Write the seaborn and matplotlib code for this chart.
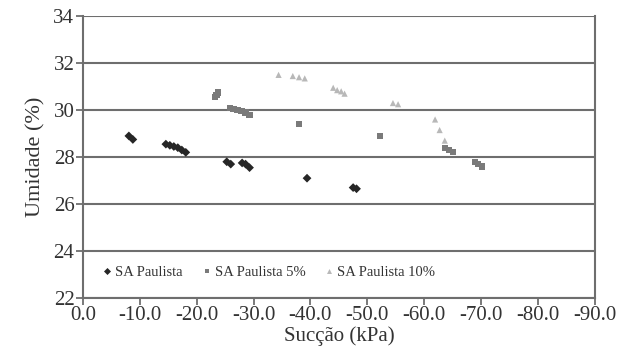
import numpy as np
import pandas as pd
import matplotlib
matplotlib.use("Agg")
import matplotlib.pyplot as plt
import seaborn as sns

# SA Paulista (black diamonds)
sa_x = [-8.1, -8.8, -14.6, -15.3, -16.0, -16.7, -17.4, -18.1, -25.3, -26.0,
        -28.0, -28.6, -29.3, -39.4, -47.5, -48.1]
sa_y = [28.9, 28.75, 28.55, 28.5, 28.45, 28.4, 28.3, 28.2, 27.8, 27.7,
        27.75, 27.7, 27.55, 27.1, 26.7, 26.65]

# SA Paulista 5% (gray squares)
sa5_x = [-23.3, -23.5, -23.8, -25.8, -26.5, -27.2, -27.9, -28.6, -29.3,
         -38.0, -52.2, -63.6, -64.3, -65.0, -68.9, -69.5, -70.1]
sa5_y = [30.55, 30.65, 30.75, 30.1, 30.05, 30.0, 29.95, 29.9, 29.8,
         29.4, 28.9, 28.4, 28.3, 28.2, 27.8, 27.7, 27.6]

# SA Paulista 10% (light gray triangles)
sa10_x = [-34.4, -36.9, -38.0, -39.0, -44.0, -44.7, -45.4, -46.0,
          -54.5, -55.4, -61.9, -62.7, -63.6]
sa10_y = [31.5, 31.45, 31.4, 31.35, 30.95, 30.85, 30.8, 30.7,
          30.3, 30.25, 29.6, 29.15, 28.7]

series = ["SA Paulista", "SA Paulista 5%", "SA Paulista 10%"]

df = pd.concat([
    pd.DataFrame({"x": sa_x, "y": sa_y, "s": series[0]}),
    pd.DataFrame({"x": sa5_x, "y": sa5_y, "s": series[1]}),
    pd.DataFrame({"x": sa10_x, "y": sa10_y, "s": series[2]}),
])

sns.set_style("white")
plt.rcParams["font.family"] = ["Liberation Serif", "DejaVu Serif"]

fig = plt.figure(figsize=(6.27, 3.59), dpi=100)
ax = fig.add_axes([0.132, 0.170, 0.817, 0.785])

sns.scatterplot(data=df, x="x", y="y", hue="s", style="s",
                palette=["#262626", "#7a7a7a", "#b8b8b8"],
                markers=["D", "s", "^"], s=20, linewidth=0, ax=ax)

ax.set_xlim(0, -90)
ax.set_ylim(22, 34)
ax.set_xticks(np.arange(0, -91, -10))
ax.set_xticklabels([f"{v:.1f}" for v in np.arange(0, -91, -10)])
ax.set_yticks(np.arange(22, 35, 2))
ax.yaxis.grid(True, color="#6e6e6e", linewidth=1.5)
ax.set_axisbelow(True)
ax.spines["top"].set_visible(False)
for side in ["left", "right", "bottom"]:
    ax.spines[side].set_color("#6e6e6e")
    ax.spines[side].set_linewidth(1.5)
ax.tick_params(axis="both", direction="out", length=5, width=1.3,
               color="#6e6e6e", labelsize=15, labelcolor="#333333",
               bottom=True, left=True, pad=1)

ax.set_xlabel("Sucção (kPa)", fontsize=15, color="#333333", labelpad=1)
ax.set_ylabel("Umidade (%)", fontsize=16, color="#333333", labelpad=6)

ax.legend(loc="lower center", bbox_to_anchor=(0.36, 0.02), ncol=3, frameon=False,
          fontsize=10.5, handletextpad=0.0, handlelength=1.1, columnspacing=1.1,
          markerscale=0.8, labelcolor="#333333")

fig.savefig("out.png", dpi=100)
